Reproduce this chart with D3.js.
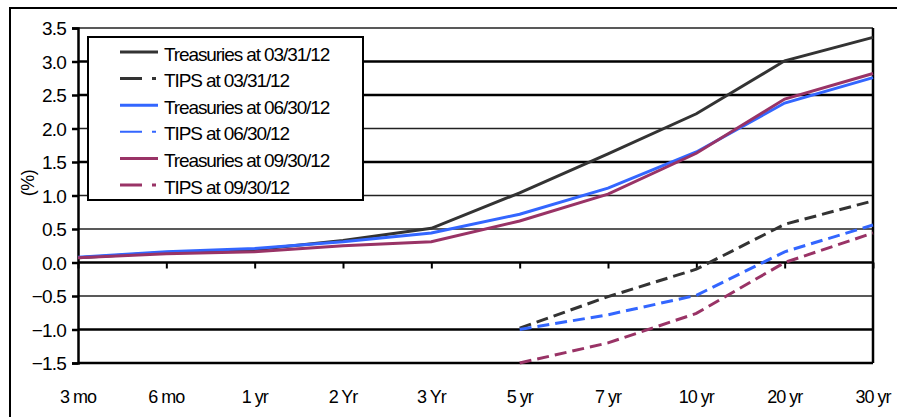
<!DOCTYPE html>
<html><head><meta charset="utf-8">
<script src="https://cdn.jsdelivr.net/npm/d3@7"></script>
<style>body{margin:0;background:#fff}svg{display:block}text{font-family:"Liberation Sans",Arial,sans-serif;}</style>
</head><body>
<script>
const categories = ["3 mo","6 mo","1 yr","2 Yr","3 Yr","5 yr","7 yr","10 yr","20 yr","30 yr"];
const yTicks = [-1.5,-1.0,-0.5,0.0,0.5,1.0,1.5,2.0,2.5,3.0,3.5];
const treas0331 = [0.07,0.15,0.19,0.33,0.51,1.04,1.62,2.22,3.01,3.36];
const tips0331  = [null,null,null,null,null,-0.98,-0.51,-0.10,0.57,0.92];
const treas0630 = [0.08,0.16,0.21,0.31,0.44,0.72,1.11,1.65,2.38,2.76];
const tips0630  = [null,null,null,null,null,-1.0,-0.78,-0.49,0.16,0.56];
const treas0930 = [0.07,0.13,0.16,0.25,0.31,0.62,1.02,1.63,2.44,2.82];
const tips0930  = [null,null,null,null,null,-1.5,-1.2,-0.76,0.0,0.44];
const seriesNames = ["Treasuries at 03/31/12","TIPS at 03/31/12","Treasuries at 06/30/12","TIPS at 06/30/12","Treasuries at 09/30/12","TIPS at 09/30/12"];

const series = [
  {name:seriesNames[0], values:treas0331, color:"#333333", dash:null},
  {name:seriesNames[1], values:tips0331,  color:"#333333", dash:"12,6"},
  {name:seriesNames[2], values:treas0630, color:"#3366ff", dash:null},
  {name:seriesNames[3], values:tips0630,  color:"#3366ff", dash:"12,6"},
  {name:seriesNames[4], values:treas0930, color:"#993366", dash:null},
  {name:seriesNames[5], values:tips0930,  color:"#993366", dash:"12,6"}
];

const W=897,H=417;
const svg=d3.select("body").append("svg").attr("width",W).attr("height",H);
svg.append("rect").attr("x",10).attr("y",8).attr("width",900).attr("height",420)
  .attr("fill","none").attr("stroke","#000").attr("stroke-width",2);

const L=78,R=873,T=28,B=363;
const x=d3.scalePoint().domain(categories).range([L,R]);
const y=d3.scaleLinear().domain([-1.5,3.5]).range([B,T]);

// gridlines
const thick=new Set([3.0,2.5,1.5,0.0,-1.0,-1.5]);
svg.append("g").selectAll("line").data(yTicks).join("line")
  .attr("x1",L).attr("x2",R).attr("y1",d=>y(d)).attr("y2",d=>y(d))
  .attr("stroke",d=>thick.has(d)?"#000":"#222").attr("stroke-width",d=>thick.has(d)?2.5:1.5);

// y axis
const ya=svg.append("g").attr("transform",`translate(${L},0)`)
  .call(d3.axisLeft(y).tickValues(yTicks).tickFormat(d3.format(".1f")).tickSize(6).tickPadding(6));
ya.select(".domain").attr("stroke","#000").attr("stroke-width",2.5);
ya.selectAll(".tick line").attr("stroke","#000").attr("stroke-width",2.5);
ya.selectAll("text").attr("font-size",19).attr("fill","#000").attr("letter-spacing","-0.8").attr("dy","0.36em");

// right border
svg.append("line").attr("x1",R).attr("x2",R).attr("y1",T).attr("y2",B).attr("stroke","#000").attr("stroke-width",2.5);

// x axis at zero
const xa=svg.append("g").attr("transform",`translate(0,${y(0)})`)
  .call(d3.axisBottom(x).tickSize(6).tickFormat(""));
xa.select(".domain").remove();
xa.selectAll(".tick line").attr("stroke","#000").attr("stroke-width",2);
svg.append("g").selectAll("text").data(categories).join("text")
  .attr("x",d=>x(d)).attr("y",403).attr("text-anchor","middle")
  .attr("font-size",18).attr("letter-spacing","-1").text(d=>d);

svg.append("text").attr("transform",`translate(34,183) rotate(-90)`)
  .attr("text-anchor","middle").attr("font-size",18).attr("letter-spacing","-0.5").text("(%)");

// lines
const line=d3.line().defined(d=>d.v!=null).x(d=>x(d.c)).y(d=>y(d.v));
series.forEach(s=>{
  svg.append("path").datum(categories.map((c,i)=>({c,v:s.values[i]})))
    .attr("d",line).attr("fill","none").attr("stroke",s.color).attr("stroke-width",3)
    .attr("stroke-dasharray",s.dash);
});

// legend
const lg=svg.append("g");
lg.append("rect").attr("x",88).attr("y",37).attr("width",275).attr("height",163)
  .attr("fill","#fff").attr("stroke","#000").attr("stroke-width",2);
series.forEach((s,i)=>{
  const yy=52+i*26.6;
  lg.append("line").attr("x1",120).attr("x2",158).attr("y1",yy).attr("y2",yy)
    .attr("stroke",s.color).attr("stroke-width",i===3?2:3).attr("stroke-dasharray",s.dash?"22,10,4,20":null);
  lg.append("text").attr("x",164).attr("y",yy+8.5).attr("font-size",19).attr("letter-spacing","-1.1").text(s.name);
});
</script>
</body></html>
